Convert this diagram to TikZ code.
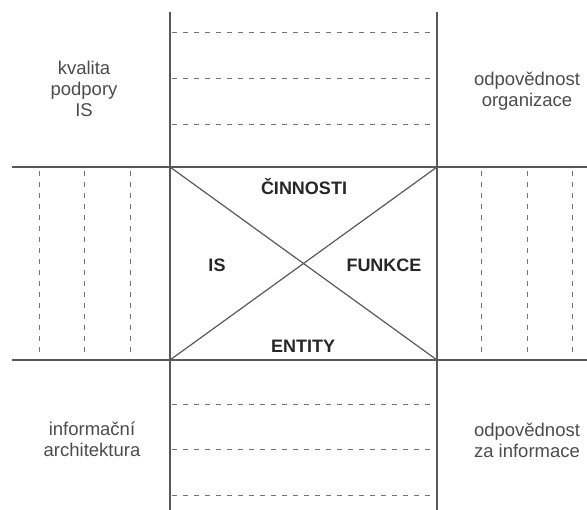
\documentclass[tikz,border=0pt]{standalone}
\usepackage{fontspec}
\setmainfont{Liberation Sans}
\begin{document}
\begin{tikzpicture}[x=1pt,y=-1pt,
  frame/.style={draw=black!65,line width=1.4pt},
  grid/.style={draw=black!55,line width=1pt,dash pattern=on 5pt off 6pt},
  note/.style={text=black!70,align=center,font=\fontsize{18.5}{21}\selectfont},
  zone/.style={text=black!85,font=\fontsize{18}{20}\selectfont\bfseries}]
\useasboundingbox (0,0) rectangle (587,510);
% corners of the central square
\coordinate (tl) at (170,167);
\coordinate (tr) at (437,167);
\coordinate (bl) at (170,360);
\coordinate (br) at (437,360);
% main cross lines
\coordinate (vlt) at (170,12);
\coordinate (vlb) at (170,510);
\coordinate (vrt) at (437,12);
\coordinate (vrb) at (437,510);
\coordinate (htl) at (12,167);
\coordinate (htr) at (587,167);
\coordinate (hbl) at (12,360);
\coordinate (hbr) at (587,360);
\draw[frame] (vlt) -- (vlb);
\draw[frame] (vrt) -- (vrb);
\draw[frame] (htl) -- (htr);
\draw[frame] (hbl) -- (hbr);
\draw[frame,line width=1.2pt] (tl) -- (br);
\draw[frame,line width=1.2pt] (bl) -- (tr);
% dashed rows above and below the square
\foreach \y in {33,79,125,405,450,496}
  \draw[grid] (172,\y) -- (432,\y);
% dashed columns left and right of the square
\foreach \x in {39,84,130,481,527,572}
  \draw[grid] (\x,171) -- (\x,358);
% labels of the four triangles
\node[zone] (cin) at (304,187) {ČINNOSTI};
\node[zone] (is) at (217,265) {IS};
\node[zone] (fun) at (384,265) {FUNKCE};
\node[zone] (ent) at (303,346) {ENTITY};
% corner notes
\node[note] (kval) at (84,89) {kvalita\\podpory\\IS};
\node[note] (org) at (527,91) {odpovědnost\\organizace};
\node[note] (arch) at (92,439) {informační\\architektura};
\node[note] (inf) at (527,440) {odpovědnost\\za informace};
\end{tikzpicture}
\end{document}
